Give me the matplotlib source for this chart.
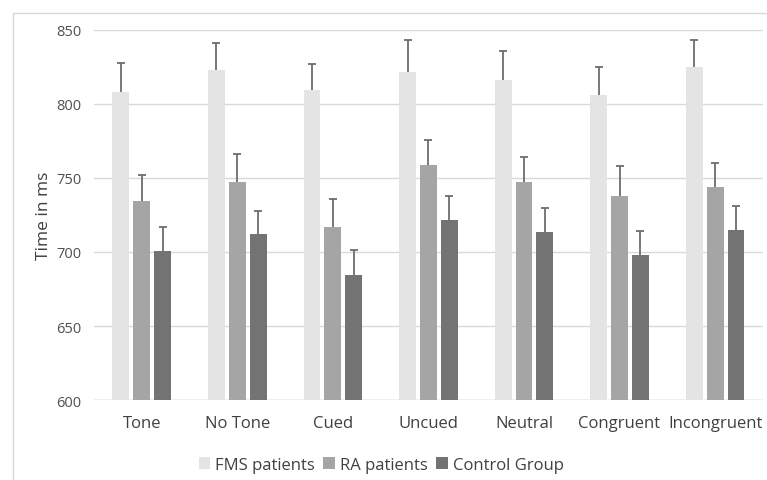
import matplotlib
matplotlib.use("Agg")
import matplotlib.pyplot as plt
import numpy as np
from matplotlib.patches import Rectangle

plt.rcParams["font.family"] = ["Open Sans", "DejaVu Sans"]

categories = ["Tone", "No Tone", "Cued", "Uncued", "Neutral", "Congruent", "Incongruent"]
groups = ["FMS patients", "RA patients", "Control Group"]

fms = [808, 823, 809.5, 821.5, 816, 806, 825]
ra = [734.5, 747.5, 717, 758.5, 747, 738, 744]
control = [701, 712, 684.5, 721.5, 713.5, 698, 715]

fms_err = [19.5, 18.5, 17.5, 22, 19.5, 19, 18.5]
ra_err = [17.5, 18.5, 19, 17.5, 17, 20, 16.3]
control_err = [16, 16, 17, 16, 16.3, 16.4, 16]

colors = ["#e4e4e4", "#a5a5a5", "#737373"]
text_color = "#404040"

fig = plt.figure(figsize=(7.67, 4.81), dpi=100)
ax = fig.add_axes([0.1226, 0.1663, 0.872, 0.7693])

# outer chart frame
fig.patches.append(Rectangle((13 / 767, -0.1), 1.2, 1 - 14 / 481 + 0.1,
                             transform=fig.transFigure, fill=False,
                             edgecolor="#d9d9d9", linewidth=1))

x = np.arange(len(categories))
width = 0.177
step = width + 0.042
series = [fms, ra, control]
errs = [fms_err, ra_err, control_err]
for i, (vals, err) in enumerate(zip(series, errs)):
    pos = x + (i - 1) * step
    ax.bar(pos, vals, width=width, color=colors[i], label=groups[i], zorder=2)
    _, caps, _ = ax.errorbar(pos, vals, yerr=[np.zeros(len(err)), err], fmt="none",
                             ecolor="#6d6d6d", elinewidth=1.3, capsize=3,
                             capthick=1.3, zorder=3)
    caps[0].set_visible(False)  # only the upper cap

ax.set_xlim(-0.5, len(categories) - 0.5)
ax.set_ylim(600, 850)
ax.set_yticks([600, 650, 700, 750, 800, 850])
ax.set_xticks(x)
ax.set_xticklabels(categories, fontsize=12, color=text_color)
ax.tick_params(axis="y", labelsize=10.5, labelcolor="#505050", length=0, pad=9)
ax.tick_params(axis="x", length=0, pad=11)
ax.yaxis.grid(True, color="#d9d9d9", linewidth=1, zorder=0)
ax.set_axisbelow(True)
for s in ax.spines.values():
    s.set_visible(False)
ax.axhline(600, color="#d0d0d0", linewidth=1, zorder=1)

ax.set_ylabel("Time in ms", fontsize=12.5, color=text_color, labelpad=3)

fig.legend(loc="center", bbox_to_anchor=(0.497, 1 - 466 / 481), ncol=3,
           frameon=False, fontsize=12, handlelength=0.7, handleheight=0.7,
           handletextpad=0.3, columnspacing=0.5, labelcolor=text_color)

fig.savefig("out.png", dpi=100)
